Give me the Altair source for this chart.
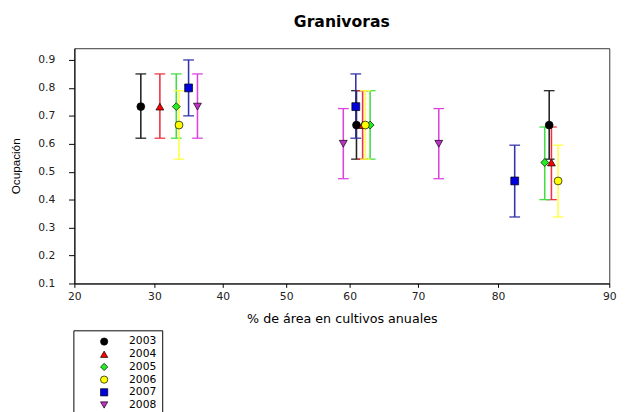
import altair as alt
import pandas as pd

years = ["2003", "2004", "2005", "2006", "2007", "2008"]

# % area (x), occupancy (y), lower and upper error limits, per year
x_2003 = [28.3, 61.0, 84.6]
y_2003 = [0.733, 0.667, 0.667]
lo_2003 = [0.62, 0.545, 0.545]
hi_2003 = [0.85, 0.79, 0.79]

x_2004 = [30.8, 61.9, 84.8]
y_2004 = [0.733, 0.667, 0.533]
lo_2004 = [0.62, 0.545, 0.40]
hi_2004 = [0.85, 0.79, 0.66]

x_2005 = [33.2, 63.0, 84.2]
y_2005 = [0.733, 0.667, 0.533]
lo_2005 = [0.62, 0.545, 0.40]
hi_2005 = [0.85, 0.79, 0.66]

x_2006 = [33.6, 62.3, 85.4]
y_2006 = [0.667, 0.667, 0.467]
lo_2006 = [0.545, 0.545, 0.338]
hi_2006 = [0.79, 0.79, 0.595]

x_2007 = [35.0, 60.9, 81.5]
y_2007 = [0.80, 0.733, 0.467]
lo_2007 = [0.70, 0.62, 0.338]
hi_2007 = [0.90, 0.85, 0.595]

x_2008 = [36.3, 59.0, 72.6]
y_2008 = [0.733, 0.60, 0.60]
lo_2008 = [0.62, 0.475, 0.475]
hi_2008 = [0.85, 0.726, 0.726]

series = {
    "2003": (x_2003, y_2003, lo_2003, hi_2003),
    "2004": (x_2004, y_2004, lo_2004, hi_2004),
    "2005": (x_2005, y_2005, lo_2005, hi_2005),
    "2006": (x_2006, y_2006, lo_2006, hi_2006),
    "2007": (x_2007, y_2007, lo_2007, hi_2007),
    "2008": (x_2008, y_2008, lo_2008, hi_2008),
}

x_ticks = [20, 30, 40, 50, 60, 70, 80, 90]
x_tick_px = [0, 82, 152, 217, 282, 352, 434, 548]
y_ticks = [0.1, 0.2, 0.3, 0.4, 0.5, 0.6, 0.7, 0.8, 0.9]

fill_colors = ["#000000", "#ff0000", "#22ee22", "#ffff00", "#0000dd", "#c030c8"]
bar_colors = ["#222222", "#ee3344", "#44dd44", "#ffff44", "#3333aa", "#dd44dd"]
shapes = ["circle", "triangle-up", "diamond", "circle", "square", "triangle-down"]

rows = []
for yr in years:
    xs, ys, los, his = series[yr]
    for xv, yv, lo, hi in zip(xs, ys, los, his):
        rows.append({"year": yr, "x": xv, "y": yv, "lo": lo, "hi": hi})
df = pd.DataFrame(rows)

x_scale = alt.Scale(domain=x_ticks, range=x_tick_px, nice=False, zero=False)
y_scale = alt.Scale(domain=[0.1, 0.942], nice=False, zero=False)

x_axis = alt.Axis(values=x_ticks, title="% de área en cultivos anuales", grid=False,
                  tickSize=4, labelPadding=3, titlePadding=11, minExtent=19, maxExtent=19,
                  format="d", labelFlush=False, labelOverlap=False)
y_axis = alt.Axis(values=y_ticks, title="Ocupación", grid=False, tickSize=6,
                  labelPadding=14, titlePadding=16, minExtent=37, maxExtent=37,
                  format=".1f", labelFlush=False, labelOverlap=False, tickCount=9)


def X():
    return alt.X("x:Q", scale=x_scale, axis=x_axis)


def Y(field):
    return alt.Y(field, type="quantitative", scale=y_scale, axis=y_axis)


legend = alt.Legend(orient="none", legendX=-1, legendY=289, strokeColor="black",
                    fillColor="white", padding=6, symbolOffset=20, labelOffset=20,
                    rowPadding=1, labelFontSize=11, labelFont="DejaVu Sans",
                    labelColor="black", symbolSize=55, symbolStrokeColor="black",
                    symbolStrokeWidth=0.7, title=None)

base = alt.Chart(df)

layers = []
for yr, col in zip(years, bar_colors):
    sub = base.transform_filter(alt.datum.year == yr)
    layers.append(sub.mark_rule(strokeWidth=1.6, color=col).encode(
        x=X(), y=Y("lo"), y2="hi:Q"))
    layers.append(sub.mark_rule(strokeWidth=1.3, color=col, xOffset=-5.5, x2Offset=5.5).encode(
        x=X(), x2="x:Q", y=Y("lo")))
    layers.append(sub.mark_rule(strokeWidth=1.3, color=col, xOffset=-5.5, x2Offset=5.5).encode(
        x=X(), x2="x:Q", y=Y("hi")))

points = base.mark_point(filled=True, size=65, stroke="black", strokeWidth=0.7, opacity=1).encode(
    x=X(),
    y=Y("y"),
    color=alt.Color("year:N", scale=alt.Scale(domain=years, range=fill_colors), legend=legend),
    shape=alt.Shape("year:N", scale=alt.Scale(domain=years, range=shapes), legend=legend),
)
layers.append(points)

chart = alt.layer(*layers).properties(
    width=548,
    height=241,
    title=alt.TitleParams("Granivoras", font="DejaVu Sans", fontSize=16, fontWeight="bold",
                          offset=12, dy=-7, anchor="middle", color="black"),
    padding={"left": 2, "top": 0, "right": 5, "bottom": 95},
).configure_view(
    stroke="#333333", strokeWidth=1
).configure_axis(
    domainColor="black", tickColor="black", labelColor="#222222", titleColor="black",
    labelFont="DejaVu Sans", labelFontSize=11, titleFont="Liberation Sans",
    titleFontSize=12, titleFontWeight="normal"
).configure_axisX(
    titleFont="DejaVu Sans", titleFontSize=13
)

chart.save("out.html", embed_options={"renderer": "svg", "actions": False})
